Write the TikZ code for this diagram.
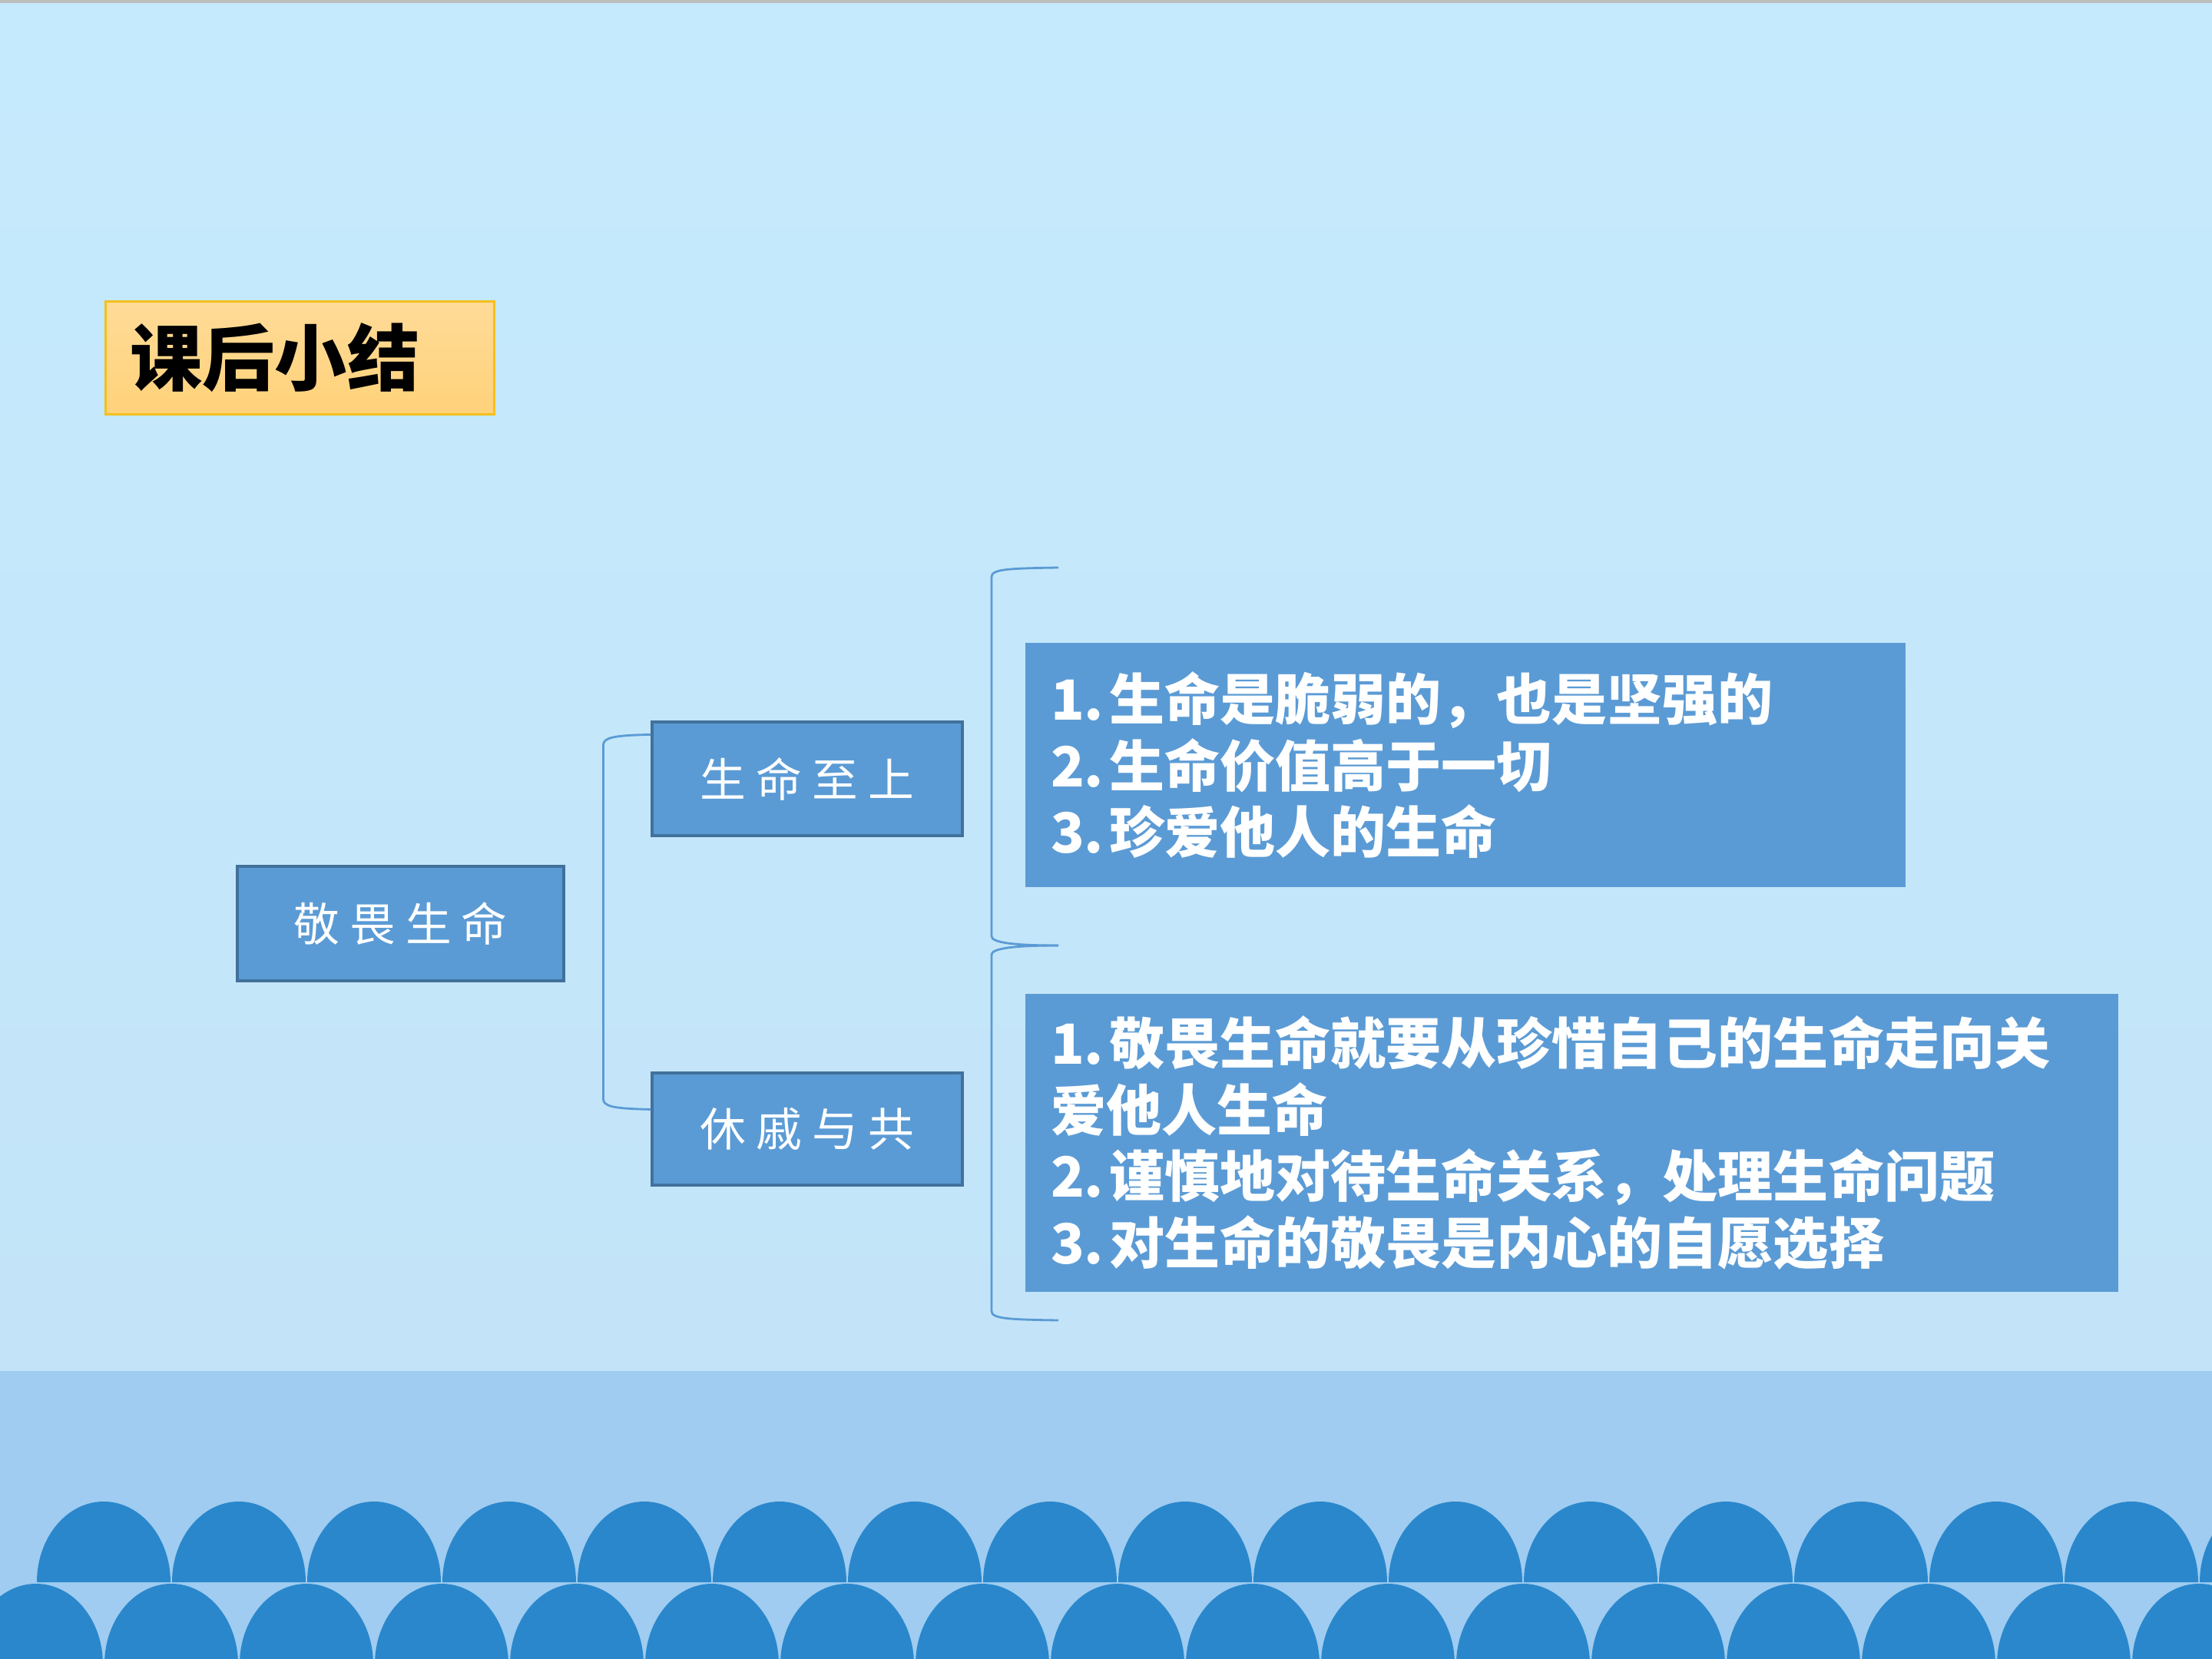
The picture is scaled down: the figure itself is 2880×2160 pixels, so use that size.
\documentclass[tikz,border=0pt]{standalone}
\usepackage{fontspec}
\usetikzlibrary{calc,positioning}
\usepackage{xcolor}
\newfontfamily\cjk{Noto Sans CJK SC}
\newfontfamily\cjkwide[LetterSpace=22]{Noto Sans CJK SC}
\newcommand\itemno[1]{#1.\hspace{0.1em}}
\definecolor{skytop}{HTML}{C6EAFD}
\definecolor{skybot}{HTML}{C3E4F8}
\definecolor{seaband}{HTML}{9FCCF0}
\definecolor{wavecol}{HTML}{2A87CC}
\definecolor{boxblue}{HTML}{5B9BD5}
\definecolor{boxedge}{HTML}{41719C}
\definecolor{topline}{HTML}{BDBDBD}
\definecolor{titletop}{HTML}{FFDB98}
\definecolor{titlebot}{HTML}{FFD27A}
\definecolor{titleedge}{HTML}{F4C01E}
\tikzset{
  titlebox/.style={draw=titleedge, line width=0.9pt, top color=titletop, bottom color=titlebot, anchor=west,
    minimum width=50.6mm, minimum height=14.7mm, inner xsep=3.2mm, text width=44.2mm, align=left,
    font=\cjk\bfseries\fontsize{26.8pt}{30pt}\selectfont},
  topicbox/.style={draw=boxedge, line width=0.9pt, fill=boxblue, text=white, inner sep=0pt,
    font=\cjkwide\fontsize{17pt}{20pt}\selectfont},
  notebox/.style={fill=boxblue, text=white, inner xsep=3.3mm, inner ysep=0pt, align=left,
    font=\cjk\bfseries\fontsize{20.5pt}{24.7pt}\selectfont},
  brace/.style={draw=boxblue, line width=0.8pt},
  wave/.style={fill=wavecol}
}

\begin{document}
\begin{tikzpicture}[x=0.1mm, y=-0.1mm]
  \clip (0,0) rectangle (2880,2160);
  \shade[top color=skytop, bottom color=skybot] (0,0) rectangle (2880,1785);
  \fill[topline] (0,0) rectangle (2880,4);
  \fill[seaband] (0,1785) rectangle (2880,2160);
  \foreach \k in {0,...,16} {
    \fill[wave] (135+176*\k-87,2060) arc[start angle=180, end angle=360, x radius=87, y radius=105] -- cycle;
    \fill[wave] (47+176*\k-87,2167) arc[start angle=180, end angle=360, x radius=87, y radius=105] -- cycle;
  }

  \node[titlebox] (summary) at (136,466) {课后小结};
  \node[topicbox, minimum width=42.5mm, minimum height=14.9mm] (awe) at (521.5,1202.5) {敬畏生命};
  \node[topicbox, minimum width=40.4mm, minimum height=14.8mm] (supreme) at (1051,1014) {生命至上};
  \node[topicbox, minimum width=40.4mm, minimum height=14.6mm] (share) at (1051,1470) {休戚与共};
  \node[notebox, minimum width=114.6mm, minimum height=31.8mm, text width=108mm] (notesA) at (1908,996)
    {\itemno{1}生命是脆弱的，也是坚强的\\\itemno{2}生命价值高于一切\\\itemno{3}珍爱他人的生命};
  \node[notebox, minimum width=142.3mm, minimum height=38.8mm, text width=135.7mm] (notesB) at (2046.5,1488)
    {\itemno{1}敬畏生命就要从珍惜自己的生命走向关\\爱他人生命\\\itemno{2}谨慎地对待生命关系，处理生命问题\\\itemno{3}对生命的敬畏是内心的自愿选择};

  \coordinate (lbTop) at ($(supreme.north west)+(0,18)$);
  \coordinate (lbBot) at ($(share.north west)+(0,49)$);
  \draw[brace] (lbTop) .. controls +(-50,1) and +(0,-10) .. ++(-62,14) -- ++(0,460)
    .. controls +(0,10) and +(-50,-1) .. (lbBot);

  \coordinate (rbTop) at (1378,739);
  \coordinate (rbMid) at (1378,1231);
  \coordinate (rbBot) at (1378,1719);
  \draw[brace] (rbTop) .. controls +(-65,1) and +(0,-10) .. ++(-87,12) -- ++(0,468)
    .. controls +(0,8) and +(-60,0) .. (rbMid);
  \draw[brace] (rbMid) .. controls +(-60,0) and +(0,-8) .. ++(-87,12) -- ++(0,464)
    .. controls +(0,10) and +(-65,-1) .. (rbBot);
\end{tikzpicture}
\end{document}
